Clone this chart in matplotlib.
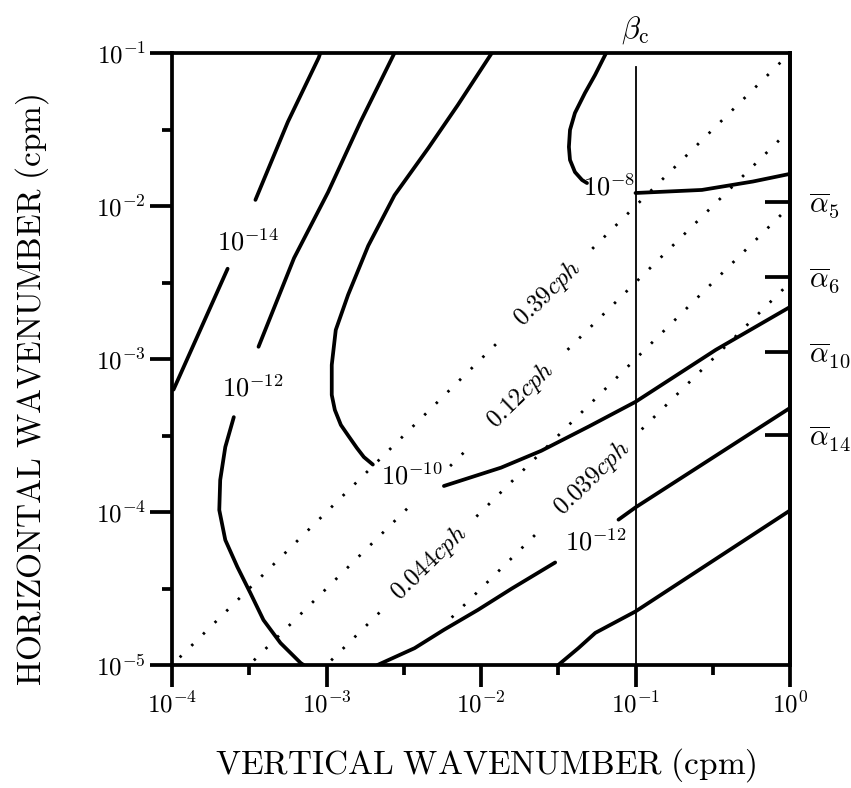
#Spectrum contours in (vertical, horizontal) wavenumber space, log-log
import numpy as np
import matplotlib
matplotlib.use('Agg')
import matplotlib.pyplot as plt
from matplotlib.ticker import FixedLocator, FixedFormatter, NullLocator

plt.rcParams['mathtext.fontset'] = 'cm'
plt.rcParams['font.family'] = 'serif'

#Contours, log10 of vertical wavenumber (lm) and horizontal wavenumber (lk)
#---------------------------------
c14_a_lm = [-3.99, -3.64];              c14_a_lk = [-3.20, -2.41]
c14_b_lm = [-3.46, -3.25, -3.05, -3.04]; c14_b_lk = [-1.96, -1.45, -1.03, -1.00]

c12u_a_lm = [-2.56, -2.78, -2.99, -3.21, -3.44]
c12u_a_lk = [-1.00, -1.45, -1.91, -2.34, -2.92]
c12u_b_lm = [-3.60, -3.655, -3.688, -3.694, -3.655, -3.577, -3.493, -3.408, -3.298, -3.167, -3.148]
c12u_b_lk = [-3.38, -3.575, -3.791, -3.987, -4.183, -4.359, -4.529, -4.706, -4.856, -4.987, -5.00]

c10_a_lm = [-1.93, -2.15, -2.34, -2.56, -2.73, -2.86, -2.94, -2.966, -2.966, -2.946,
            -2.907, -2.862, -2.803, -2.758, -2.70]
c10_a_lk = [-1.00, -1.34, -1.62, -1.93, -2.26, -2.58, -2.81, -3.039, -3.235, -3.333,
            -3.431, -3.497, -3.582, -3.641, -3.69]
c10_b_lm = [-2.24, -1.87, -1.61, -1.30, -1.00, -0.48, 0.0]
c10_b_lk = [-3.83, -3.71, -3.60, -3.44, -3.28, -2.94, -2.66]

c8_a_lm = [-1.19, -1.262, -1.327, -1.392, -1.424, -1.431, -1.424, -1.392, -1.346, -1.314]
c8_a_lk = [-1.00, -1.144, -1.261, -1.392, -1.503, -1.614, -1.699, -1.778, -1.830, -1.850]
c8_b_lm = [-1.00, -0.57, -0.24, 0.0]
c8_b_lk = [-1.915, -1.895, -1.84, -1.79]

c12l_a_lm = [-2.67, -2.43, -2.24, -2.02, -1.80, -1.52]
c12l_a_lk = [-5.00, -4.89, -4.77, -4.64, -4.50, -4.33]
c12l_b_lm = [-1.11, -1.00, 0.0]
c12l_b_lk = [-4.05, -3.97, -3.32]

c14l_lm = [-1.50, -1.37, -1.26, -1.00, 0.0]
c14l_lk = [-5.00, -4.89, -4.79, -4.65, -3.99]

contours = [(c14_a_lm, c14_a_lk), (c14_b_lm, c14_b_lk),
            (c12u_a_lm, c12u_a_lk), (c12u_b_lm, c12u_b_lk),
            (c10_a_lm, c10_a_lk), (c10_b_lm, c10_b_lk),
            (c8_a_lm, c8_a_lk), (c8_b_lm, c8_b_lk),
            (c12l_a_lm, c12l_a_lk), (c12l_b_lm, c12l_b_lk),
            (c14l_lm, c14l_lk)]

#contour labels: text, lm, lk
contour_labels = [(r'$10^{-14}$', -3.51, -2.235),
                  (r'$10^{-12}$', -3.48, -3.19),
                  (r'$10^{-10}$', -2.45, -3.765),
                  (r'$10^{-8}$', -1.17, -1.876),
                  (r'$10^{-12}$', -1.26, -4.196)]
#---------------------------------

#Constant frequency lines: offset log10(kh/m) and visible pieces in lm
#---------------------------------
freq_offsets = [-1.0, -1.5, -2.0, -2.5]
freq_pieces = [[(-3.95, -1.85), (-1.28, -0.03)],
               [(-3.47, -2.45), (-2.20, -2.05), (-1.44, -0.03)],
               [(-2.97, -2.64), (-2.03, -0.03)],
               [(-2.19, -1.61), (-0.96, -0.03)]]
freq_labels = [r'$0.39cph$', r'$0.12cph$', r'$0.044cph$', r'$0.039cph$']
freq_label_lm = [-1.57, -1.74, -2.335, -1.28]
#---------------------------------

#Right-hand marks and critical wavenumber
#---------------------------------
alpha_lk = [-1.974, -2.464, -2.954, -3.497]
alpha_labels = [r'$\overline{\alpha}_5$', r'$\overline{\alpha}_6$',
                r'$\overline{\alpha}_{10}$', r'$\overline{\alpha}_{14}$']
beta_c = 0.1
#---------------------------------

xticks = [1e-4, 1e-3, 1e-2, 1e-1, 1e0]
xtick_labels = [r'$10^{-4}$', r'$10^{-3}$', r'$10^{-2}$', r'$10^{-1}$', r'$10^{0}$']
yticks = [1e-5, 1e-4, 1e-3, 1e-2, 1e-1]
ytick_labels = [r'$10^{-5}$', r'$10^{-4}$', r'$10^{-3}$', r'$10^{-2}$', r'$10^{-1}$']

#Figure
#--------------------------------
W, H = 851, 788
fig = plt.figure(figsize=(W/100, H/100), dpi=100)
ax = fig.add_axes([172/W, 123/H, 618/W, 612/H])
ax.set_xscale('log'); ax.set_yscale('log')
ax.set_xlim(1e-4, 1e0); ax.set_ylim(1e-5, 1e-1)

line_w = 2.7
for lm, lk in contours:
    ax.plot(10**np.array(lm), 10**np.array(lk), color='black', lw=line_w,
            solid_capstyle='round', solid_joinstyle='round')

for text, lm, lk in contour_labels:
    ax.text(10**lm, 10**lk, text, fontsize=19, ha='center', va='center')

for off, pieces in zip(freq_offsets, freq_pieces):
    for a, b in pieces:
        lm = np.linspace(a, b, 50)
        ax.plot(10**lm, 10**(lm + off), color='black', lw=2.0,
                linestyle=(0, (0.9, 5.0)))

for off, text, lm in zip(freq_offsets, freq_labels, freq_label_lm):
    ax.text(10**lm, 10**(lm + off), text, fontsize=18, rotation=44,
            ha='center', va='center', rotation_mode='anchor')

ax.plot([beta_c, beta_c], [1e-5, 10**-1.09], color='black', lw=1.3)
ax.text(beta_c, 10**-0.85, r'$\beta_{\rm c}$', fontsize=22,
        ha='center', va='center')

#Spines and ticks
for s in ax.spines.values():
    s.set_linewidth(2.7)

ax.xaxis.set_major_locator(FixedLocator(xticks))
ax.xaxis.set_major_formatter(FixedFormatter(xtick_labels))
ax.xaxis.set_minor_locator(FixedLocator([10**(k + 0.5) for k in range(-4, 0)]))
ax.yaxis.set_major_locator(FixedLocator(yticks))
ax.yaxis.set_major_formatter(FixedFormatter(ytick_labels))
ax.yaxis.set_minor_locator(FixedLocator([10**(k + 0.5) for k in range(-5, -1)]))
ax.tick_params(which='major', length=16, width=2.7, direction='out',
               labelsize=18, pad=3)
ax.tick_params(which='minor', length=7, width=2.7, direction='out')

sec = ax.secondary_yaxis('right')
sec.set_yticks([10**v for v in alpha_lk])
sec.set_yticklabels(alpha_labels)
sec.yaxis.set_minor_locator(NullLocator())
sec.tick_params(direction='in', length=18, width=2.7, labelsize=21, pad=14)
sec.spines['right'].set_linewidth(2.7)

#Labels
fig.text(486/W, 1 - 765/H, r'$\mathrm{VERTICAL\ WAVENUMBER\ (cpm)}$',
         fontsize=24, ha='center', va='center')
fig.text(32/W, 1 - 390/H, r'$\mathrm{HORIZONTAL\ WAVENUMBER\ (cpm)}$',
         fontsize=24, ha='center', va='center', rotation=90)

fig.savefig('out.png', dpi=100)
#--------------------------------
